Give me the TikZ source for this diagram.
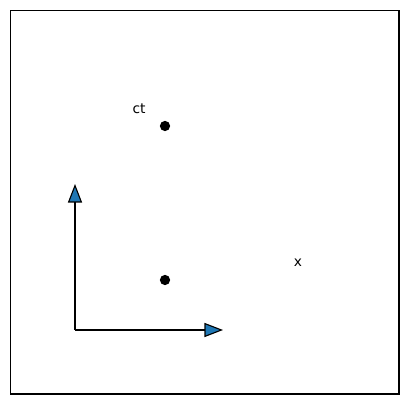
\documentclass[tikz,border=0pt]{standalone}
\usepackage{fontspec}
\setmainfont{DejaVu Sans}
\usetikzlibrary{arrows.meta}
\definecolor{mplblue}{HTML}{1F77B4}
\tikzset{
    dot/.style={circle,fill=black,inner sep=0pt,minimum size=7.3pt},
    lbl/.style={inner sep=0pt,font=\fontsize{9.8}{11}\selectfont},
    vec/.style={line width=1.3pt,-{Triangle[width=10pt,length=13.2pt,fill=mplblue,line width=0.8pt]}}
}

\begin{document}
\begin{tikzpicture}[x=0.025cm,y=-0.025cm]
        \useasboundingbox (0,0) rectangle (407,405);
        \draw[line width=0.75pt] (10.5,10.5) rectangle (399,394);
        \coordinate (o) at (75,330);
        \coordinate (ex) at (223,330);
        \coordinate (et) at (75,184);
        \draw[vec] (o)--(ex);
        \draw[vec] (o)--(et);
        \node[dot] (p1) at (165,126) {};
        \node[dot] (p2) at (165,280) {};
        \node[lbl] (ct) at (139,109) {ct};
        \node[lbl] (x) at (298,263) {x};
    \end{tikzpicture}
\end{document}
